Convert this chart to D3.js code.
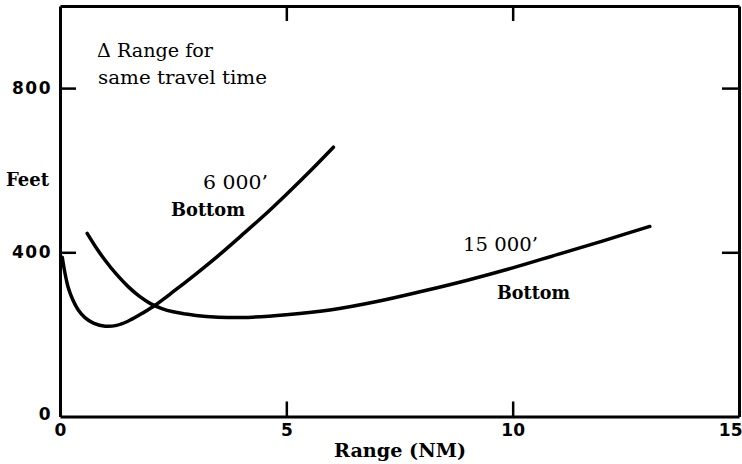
<!DOCTYPE html>
<html>
<head>
<meta charset="utf-8">
<script src="https://cdn.jsdelivr.net/npm/d3@7"></script>
<style>
  html, body { margin: 0; padding: 0; background: #fff; }
  svg { display: block; }
  .tick-label { font-family: "DejaVu Sans", sans-serif; font-weight: bold; font-size: 17px; }
  .serif { font-family: "DejaVu Serif", "Liberation Serif", serif; font-size: 18px; fill: #000; }
  .bold { font-weight: bold; }
</style>
</head>
<body>
<script>
// Range in nautical miles vs. extra range (feet) for the same travel time
const xTicks = [0, 5, 10, 15];
const yTicks = [0, 400, 800];

// 6 000' bottom depth
const range6000 = [0.05, 0.10, 0.18, 0.28, 0.40, 0.55, 0.75, 1.00, 1.25, 1.50, 1.75, 2.06, 2.50, 3.00, 3.50, 4.00, 4.50, 5.00, 5.50, 6.04];
const feet6000  = [388, 355, 315, 285, 260, 241, 227, 220, 222, 232, 247, 268, 304, 347, 392, 440, 489, 541, 595, 656];

// 15 000' bottom depth
const range15000 = [0.60, 0.80, 1.00, 1.25, 1.50, 1.75, 2.00, 2.25, 2.50, 2.75, 3.00, 3.50, 4.00, 5.00, 6.00, 7.00, 8.00, 9.00, 10.00, 11.00, 12.00, 13.03];
const feet15000  = [446, 411, 380, 346, 317, 293, 275, 263, 255, 250, 246, 242, 241, 248, 260, 280, 305, 332, 362, 395, 428, 463];

const W = 742, H = 464;
const svg = d3.select("body").append("svg").attr("width", W).attr("height", H);

const x = d3.scaleLinear().domain([0, 15]).range([60, 739]);
const y = d3.scaleLinear().domain([0, 1000]).range([416.5, 6]);

function styleAxis(g) {
  g.selectAll("path.domain").attr("stroke", "#000").attr("stroke-width", 3);
  g.selectAll(".tick line").attr("stroke", "#000").attr("stroke-width", 2.5);
}

// bottom axis with labels, inward ticks
const gB = svg.append("g").attr("transform", `translate(0,${y(0)})`)
  .call(d3.axisBottom(x).tickValues(xTicks).tickSizeInner(-15).tickSizeOuter(0).tickPadding(7)
    .tickFormat(d3.format("d")));
styleAxis(gB);
gB.selectAll(".tick text").attr("class", "tick-label").attr("fill", "#000");
gB.selectAll(".tick").filter(d => d === 0 || d === 15).select("line").remove();
gB.selectAll(".tick").filter(d => d === 15).select("text").attr("text-anchor", "end").attr("dx", 3);

// left axis
const gL = svg.append("g").attr("transform", `translate(${x(0)},0)`)
  .call(d3.axisLeft(y).tickValues(yTicks).tickSizeInner(-16).tickSizeOuter(0).tickPadding(8)
    .tickFormat(d3.format("d")));
styleAxis(gL);
gL.selectAll(".tick text").attr("class", "tick-label").attr("fill", "#000").attr("letter-spacing", 1.5);
gL.selectAll(".tick").filter(d => d === 0).select("line").remove();
gL.selectAll(".tick").filter(d => d === 0).select("text").attr("dy", "0.2em");

// top axis: ticks only
const gT = svg.append("g").attr("transform", `translate(0,${y(1000)})`)
  .call(d3.axisTop(x).tickValues([5, 10]).tickSizeInner(-15).tickSizeOuter(0).tickFormat(""));
styleAxis(gT);

// right axis: ticks only
const gR = svg.append("g").attr("transform", `translate(${x(15)},0)`)
  .call(d3.axisRight(y).tickValues([400, 800]).tickSizeInner(-17).tickSizeOuter(0).tickFormat(""));
styleAxis(gR);

// curves
const line = d3.line().x(d => x(d[0])).y(d => y(d[1])).curve(d3.curveCatmullRom.alpha(0.5));
const series = [
  d3.zip(range6000, feet6000),
  d3.zip(range15000, feet15000)
];
svg.selectAll("path.curve").data(series).join("path")
  .attr("class", "curve")
  .attr("d", line)
  .attr("fill", "none")
  .attr("stroke", "#000")
  .attr("stroke-width", 3.5)
  .attr("stroke-linecap", "round")
  .attr("stroke-linejoin", "round");

// annotations
function label(txt, px, py, len, bold, anchor) {
  const t = svg.append("text").attr("class", "serif" + (bold ? " bold" : ""))
    .attr("x", px).attr("y", py).text(txt);
  if (len) t.attr("textLength", len).attr("lengthAdjust", "spacingAndGlyphs");
  if (anchor) t.attr("text-anchor", anchor);
  return t;
}
label("\u0394 Range for", 97, 57, 116, false);
label("same travel time", 98, 84, 169, false);
label("Feet", 6, 186, 43, true);
label("6 000\u2019", 203, 189, 65, false);
label("Bottom", 171, 216, 74, true);
label("15 000\u2019", 463, 251, 75, false);
label("Bottom", 497, 299, 73, true);
label("Range  (NM)", 400, 457, 132, true, "middle");
</script>
</body>
</html>
